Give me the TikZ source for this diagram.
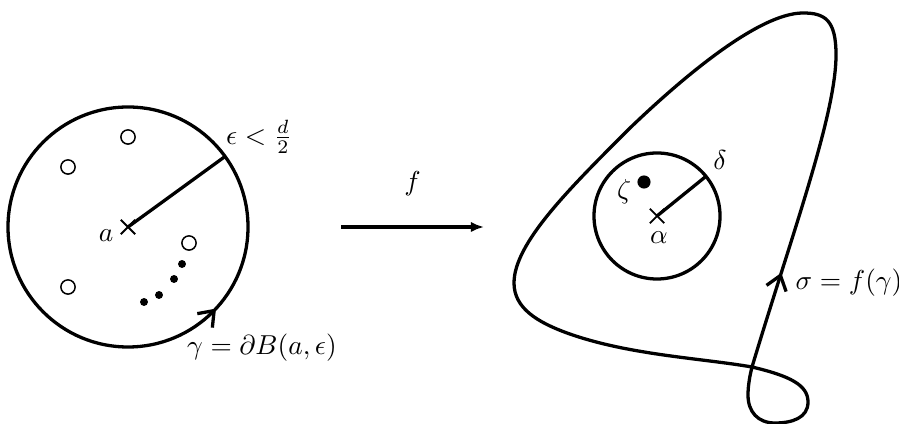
\documentclass[tikz,border=0pt]{standalone}
\usetikzlibrary{arrows.meta,decorations.markings,shapes.misc}

\begin{document}
\begin{tikzpicture}[x=0.365pt, y=-0.365pt, line width=1.2pt,
  hole/.style={draw, circle, line width=0.55pt, minimum size=5.2pt, inner sep=0pt},
  pnt/.style={fill, circle, minimum size=2.9pt, inner sep=0pt},
  ctr/.style={draw, cross out, line width=0.65pt, minimum size=4.6pt, inner sep=0pt},
  barb/.style={decoration={markings, mark=at position #1 with {\arrow{Straight Barb[length=5pt,width=7.5pt]}}}, postaction=decorate}]
\useasboundingbox (0,0) rectangle (899,424);
% left: the ball around a
\coordinate (a) at (128,227);
\draw[barb=0.881] (a) circle (43.8pt);
\node[ctr] (am) at (a) {};
\draw (a) -- ++(36:43.8pt) coordinate (ar);
\node (al) at (106,236) {$a$};
\node (eps) at (259,137) {$\epsilon<\frac{d}{2}$};
\node (gam) at (262,348) {$\gamma=\partial B(a,\epsilon)$};
\node[hole] (h1) at (128,137) {};
\node[hole] (h2) at (68,167) {};
\node[hole] (h3) at (189,243) {};
\node[hole] (h4) at (68,287) {};
\node[pnt] (d1) at (144,302) {};
\node[pnt] (d2) at (159,295) {};
\node[pnt] (d3) at (174,279) {};
\node[pnt] (d4) at (182,264) {};
% the map f
\coordinate (fs) at (341,227);
\coordinate (fe) at (484,227);
\draw[-{Latex[length=4.8pt,width=3.8pt]}] (fs) -- node[above=7.5pt] (fl) {$f$} (fe);
% right: the image curve
\coordinate (x) at (752,367);
\draw[barb=36pt] (x) .. controls (791,237) and (836,115) .. (836,55)
  .. controls (836,20) and (825,13) .. (803,13)
  .. controls (758,13) and (680,80) .. (630,128)
  .. controls (570,188) and (514,243) .. (514,283)
  .. controls (514,308) and (537,322) .. (567,333)
  .. controls (628,355) and (700,358) .. (x)
  .. controls (790,376) and (808,385) .. (808,402)
  .. controls (808,418) and (792,423) .. (775,423)
  .. controls (758,423) and (748,412) .. (748,395)
  .. controls (748,385) and (750,375) .. (x);
\node (sig) at (849,283) {$\sigma=f(\gamma)$};
\coordinate (al2) at (657,216);
\draw (al2) circle (23pt);
\node[ctr] (alm) at (al2) {};
\draw (al2) -- ++(39:23pt) coordinate (dr);
\node (alpha) at (659,238) {$\alpha$};
\node (del) at (720,160) {$\delta$};
\node[pnt, minimum size=4.8pt] (z) at (644,182) {};
\node (zet) at (624,192) {$\zeta$};
\end{tikzpicture}
\end{document}
